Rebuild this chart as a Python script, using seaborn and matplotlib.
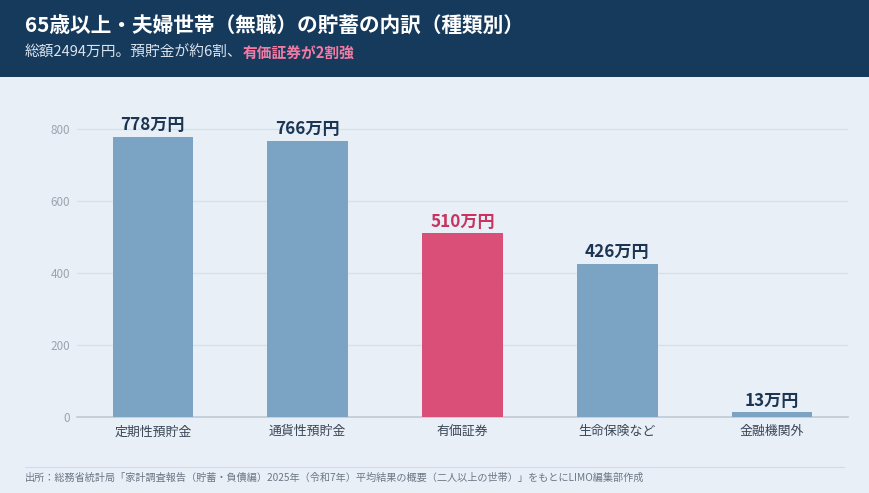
import matplotlib
matplotlib.use("Agg")
import matplotlib.pyplot as plt
import seaborn as sns
import pandas as pd
from matplotlib.patches import Rectangle
from matplotlib.lines import Line2D

# data
categories = ["定期性預貯金", "通貨性預貯金", "有価証券", "生命保険など", "金融機関外"]
values = [778, 766, 510, 426, 13]
highlight = ["normal", "normal", "hi", "normal", "normal"]
yticks = [0, 200, 400, 600, 800]

title = "65歳以上・夫婦世帯（無職）の貯蓄の内訳（種類別）"
sub_a = "総額2494万円。預貯金が約6割、"
sub_b = "有価証券が2割強"
source = "出所：総務省統計局「家計調査報告（貯蓄・負債編）2025年（令和7年）平均結果の概要（二人以上の世帯）」をもとにLIMO編集部作成"

NAVY = "#163a5c"
BG = "#e8eff7"
BLUE = "#7ba3c4"
PINK = "#d94f78"

sns.set_theme(style="white")
plt.rcParams["font.family"] = ["Noto Sans CJK JP", "DejaVu Sans"]

df = pd.DataFrame({"cat": categories, "val": values, "grp": highlight})

fig = plt.figure(figsize=(8.7, 4.93), dpi=100)
fig.patch.set_facecolor(BG)

# header band
fig.patches.append(Rectangle((0, 1 - 77 / 493), 1, 77 / 493, transform=fig.transFigure,
                             facecolor=NAVY, edgecolor="none", zorder=0))
fig.text(25 / 870, 1 - 25 / 493, title, color="white", fontsize=14.9,
         fontweight="bold", va="center", ha="left")
t1 = fig.text(25 / 870, 1 - 53 / 493, sub_a, color="#dbe4ee", fontsize=10.6,
              va="center", ha="left")
fig.canvas.draw()
bb = t1.get_window_extent()
fig.text(bb.x1 / fig.bbox.width, 1 - 53 / 493, sub_b, color="#f37aa3", fontsize=10.6,
         fontweight="bold", va="center", ha="left")

ax = fig.add_axes([77 / 870, 76 / 493, (848 - 77) / 870, (417 - 100) / 493])
ax.set_facecolor(BG)
sns.barplot(data=df, x="cat", y="val", hue="grp", palette={"normal": BLUE, "hi": PINK},
            dodge=False, width=0.52, legend=False, ax=ax, saturation=1, zorder=3,
            edgecolor="none", linewidth=0)

ax.set_ylim(0, 880)
ax.set_xlim(-0.49, len(categories) - 0.51)
ax.set_yticks(yticks)
ax.set_yticklabels([str(v) for v in yticks], color="#9aa5b1", fontsize=8.4)
ax.tick_params(axis="y", length=0, pad=5)
ax.tick_params(axis="x", length=0, pad=6, labelsize=9.3, labelcolor="#3a4756")
ax.set_xlabel("")
ax.set_ylabel("")
for v in yticks[1:]:
    ax.axhline(v, color="#d6e0ea", lw=1, zorder=1)
for s in ["top", "right", "left"]:
    ax.spines[s].set_visible(False)
ax.spines["bottom"].set_color("#c0cad4")
ax.spines["bottom"].set_linewidth(1.2)

for i, (v, g) in enumerate(zip(values, highlight)):
    ax.annotate(f"{v}万円", (i, v), xytext=(0, 2), textcoords="offset points",
                ha="center", va="bottom", fontsize=12.3, fontweight="bold",
                color="#c8335f" if g == "hi" else "#1c3553")

# footer
fig.lines.append(Line2D([25 / 870, 844 / 870], [1 - 467 / 493, 1 - 467 / 493],
                        transform=fig.transFigure, color="#d3dce5", lw=0.8))
fig.text(25 / 870, 1 - 478 / 493, source, color="#6b7785", fontsize=7.3,
         va="center", ha="left")

fig.savefig("out.png", dpi=100, facecolor=fig.get_facecolor())
